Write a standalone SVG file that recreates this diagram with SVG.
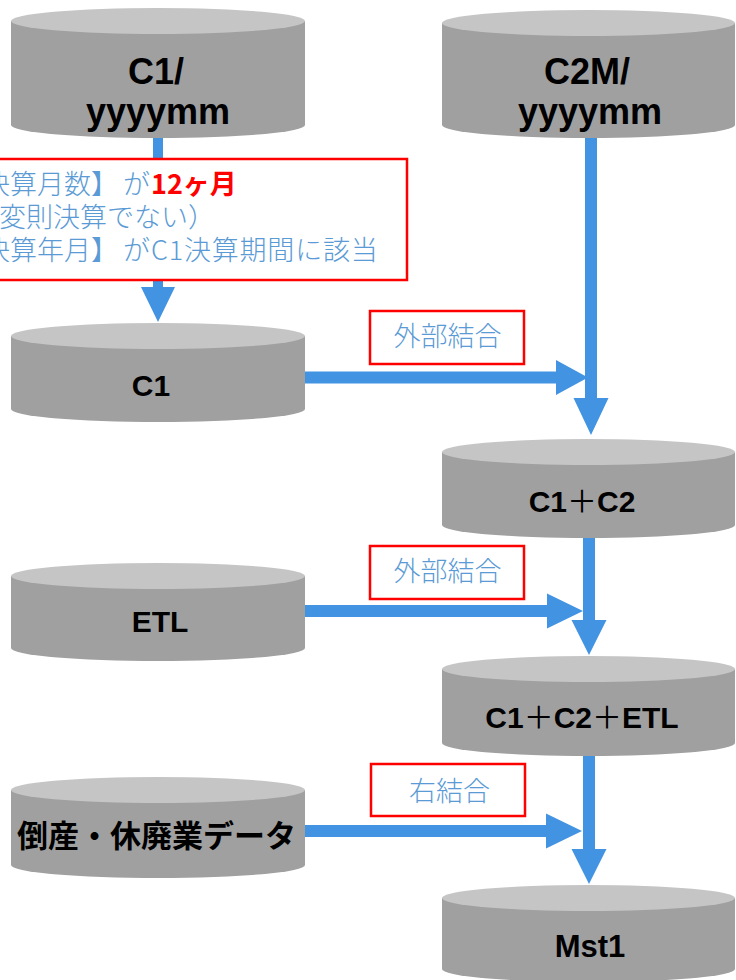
<svg xmlns="http://www.w3.org/2000/svg" width="736" height="980" viewBox="0 0 736 980">
<style>
.body{fill:#a0a0a0}
.top{fill:#c5c5c5}
.lbl{font-family:"Liberation Sans",Arial,"Noto Sans CJK JP",sans-serif;font-weight:bold;fill:#000;text-anchor:middle}
.jp{font-family:"Noto Sans CJK JP",sans-serif;font-weight:bold;fill:#000;text-anchor:middle}
.plus{font-family:"Noto Sans CJK JP",sans-serif;font-weight:normal}
.arrow{fill:#4393e3}
.box{fill:#fff;stroke:#ff0000;stroke-width:2.5}
.note{font-family:"Noto Sans CJK JP",sans-serif;font-weight:300;fill:#5b9bd5;font-size:27px}
.red{fill:#ff0000;font-weight:bold}
</style>
<rect width="736" height="980" fill="#fff"/>
<g id="connectors">
<polygon class="arrow" points="153,138 163,138 163,287 175,287 158,322 141,287 153,287"/>
<polygon class="arrow" points="585,138 597,138 597,398 608.5,398 591,435 573.5,398 585,398"/>
<polygon class="arrow" points="583,538 595,538 595,620 606.5,620 589,655 571.5,620 583,620"/>
<polygon class="arrow" points="583,756 595,756 595,849 606.5,849 589,884 571.5,849 583,849"/>
<polygon class="arrow" points="305,371.5 556,371.5 556,360 588,377.5 556,395 556,383.5 305,383.5"/>
<polygon class="arrow" points="305,605 547,605 547,593.5 583,611 547,628.5 547,617 305,617"/>
<polygon class="arrow" points="305,825 546,825 546,813.5 582,831 546,848.5 546,837 305,837"/>
</g>
<g id="n-c1ym">
<path class="body" d="M11,21 V125 A147,13 0 0 0 305,125 V21 Z"/>
<ellipse class="top" cx="158" cy="21" rx="147" ry="13"/>
<text class="lbl" font-size="36" x="156" y="84">C1/</text>
<text class="lbl" font-size="36" x="158" y="124">yyyymm</text>
</g>
<g id="n-c2mym">
<path class="body" d="M442,23 V125 A146.5,13 0 0 0 735,125 V23 Z"/>
<ellipse class="top" cx="588.5" cy="23" rx="146.5" ry="13"/>
<text class="lbl" font-size="36" x="587" y="84">C2M/</text>
<text class="lbl" font-size="36" x="590" y="124">yyyymm</text>
</g>
<g id="n-cond">
<rect class="box" x="-5" y="159" width="412" height="121"/>
<text class="note"><tspan x="-44" y="194">【決算月数】</tspan><tspan x="123" y="194">が</tspan><tspan x="151" y="194" class="red">12ヶ月</tspan><tspan x="-28" y="227">（変則決算でない）</tspan><tspan x="-44" y="260">【決算年月】</tspan><tspan x="123" y="260">が</tspan><tspan x="151" y="260" letter-spacing="0.8">C1決算期間に該当</tspan></text>
</g>
<g id="n-c1">
<path class="body" d="M11,336 V409 A147,13 0 0 0 305,409 V336 Z"/>
<ellipse class="top" cx="158" cy="336" rx="147" ry="13"/>
<text class="lbl" font-size="30" x="151" y="396">C1</text>
</g>
<g id="l-join1">
<rect class="box" x="370" y="311" width="154" height="53"/>
<text class="note" x="447.5" y="346" text-anchor="middle" font-size="27">外部結合</text>
</g>
<g id="n-c1c2">
<path class="body" d="M442,452 V525 A146.5,13 0 0 0 735,525 V452 Z"/>
<ellipse class="top" cx="588.5" cy="452" rx="146.5" ry="13"/>
<text class="lbl" font-size="30" x="582" y="512">C1<tspan class="plus">＋</tspan>C2</text>
</g>
<g id="n-etl">
<path class="body" d="M11,576 V648 A147,13 0 0 0 305,648 V576 Z"/>
<ellipse class="top" cx="158" cy="576" rx="147" ry="13"/>
<text class="lbl" font-size="30" x="160" y="632">ETL</text>
</g>
<g id="l-join2">
<rect class="box" x="370" y="546" width="154" height="53"/>
<text class="note" x="447.5" y="581" text-anchor="middle" font-size="27">外部結合</text>
</g>
<g id="n-c1c2etl">
<path class="body" d="M442,669 V743 A146.5,13 0 0 0 735,743 V669 Z"/>
<ellipse class="top" cx="588.5" cy="669" rx="146.5" ry="13"/>
<text class="lbl" font-size="30" x="582" y="728">C1<tspan class="plus">＋</tspan>C2<tspan class="plus">＋</tspan>ETL</text>
</g>
<g id="n-tosan">
<path class="body" d="M11,790 V865 A147,13 0 0 0 305,865 V790 Z"/>
<ellipse class="top" cx="158" cy="790" rx="147" ry="13"/>
<text class="jp" font-size="31" x="156.5" y="847">倒産・休廃業データ</text>
</g>
<g id="l-join3">
<rect class="box" x="371" y="764" width="154" height="52"/>
<text class="note" x="449.5" y="801" text-anchor="middle" font-size="27">右結合</text>
</g>
<g id="n-mst1">
<path class="body" d="M442,898 V969 A146.5,13 0 0 0 735,969 V898 Z"/>
<ellipse class="top" cx="588.5" cy="898" rx="146.5" ry="13"/>
<text class="lbl" font-size="31" x="590" y="957">Mst1</text>
</g>
</svg>
